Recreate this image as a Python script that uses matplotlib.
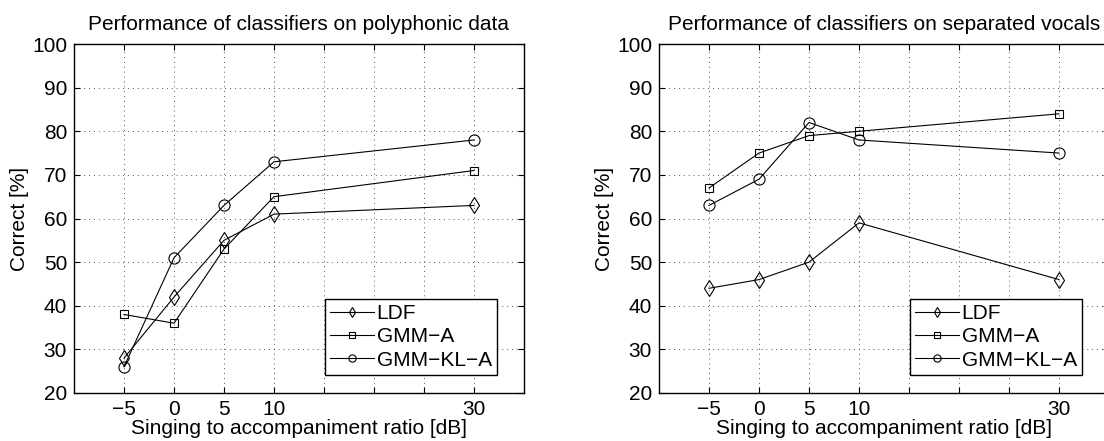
import numpy as np
import matplotlib.pyplot as plt

plt.rcParams['font.family'] = ['Liberation Sans', 'DejaVu Sans']

snr_labels = ['\u22125', '0', '5', '10', '30']
snr_pos = [1, 2, 3, 4, 8]

poly_ldf = [28, 42, 55, 61, 63]
poly_gmm = [38, 36, 53, 65, 71]
poly_gmmkl = [26, 51, 63, 73, 78]

sep_ldf = [44, 46, 50, 59, 46]
sep_gmm = [67, 75, 79, 80, 84]
sep_gmmkl = [63, 69, 82, 78, 75]

panels = [
    ('Performance of classifiers on polyphonic data', poly_ldf, poly_gmm, poly_gmmkl),
    ('Performance of classifiers on separated vocals', sep_ldf, sep_gmm, sep_gmmkl),
]

W, H = 1104, 441
fig = plt.figure(figsize=(W / 100, H / 100), dpi=100)
lefts = [74, 659]

for left, (title, ldf, gmm, gmmkl) in zip(lefts, panels):
    ax = fig.add_axes([left / W, (H - 393) / H, 450 / W, 349 / H])
    ax.plot(snr_pos, ldf, 'k-', marker='d', ms=8.5, mfc='none', mew=0.8, lw=0.8, label='LDF')
    ax.plot(snr_pos, gmm, 'k-', marker='s', ms=6, mfc='none', mew=0.8, lw=0.8, label='GMM\u2212A')
    ax.plot(snr_pos, gmmkl, 'k-', marker='o', ms=8, mfc='none', mew=0.8, lw=0.8, label='GMM\u2212KL\u2212A')
    ax.set_xlim(0, 9)
    ax.set_ylim(20, 100)
    ax.set_xticks(range(1, 9))
    ax.set_xticklabels([snr_labels[0], snr_labels[1], snr_labels[2], snr_labels[3],
                        '', '', '', snr_labels[4]])
    ax.set_yticks(range(20, 101, 10))
    ax.tick_params(direction='in', length=4, width=0.8, top=True, right=True,
                   labelsize=15, pad=5)
    ax.grid(True, ls=(0, (1, 4)), color='#555555', lw=0.7)
    for s in ax.spines.values():
        s.set_linewidth(1.0)
    ax.set_title(title, fontsize=15, pad=10)
    ax.set_xlabel('Singing to accompaniment ratio [dB]', fontsize=15, labelpad=0)
    ax.set_ylabel('Correct [%]', fontsize=15, labelpad=2)
    leg = ax.legend(loc='lower right', bbox_to_anchor=(0.94, 0.052), fontsize=15,
                    fancybox=False, edgecolor='black', framealpha=1,
                    handlelength=2.1, handletextpad=0.15, labelspacing=0.2,
                    borderpad=0.25, borderaxespad=0)
    leg.get_frame().set_linewidth(1.0)
    for h in leg.legend_handles:
        h.set_markersize(h.get_markersize() * 0.65)

fig.savefig('out.png', dpi=100)
